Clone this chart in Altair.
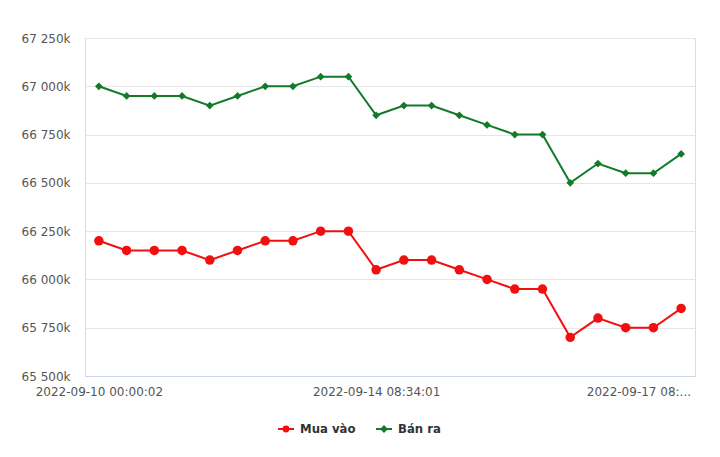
import altair as alt
import pandas as pd

series_names = ["Mua vào", "Bán ra"]
series_colors = ["#f20f0f", "#137a2a"]
series_shapes = ["circle", "diamond"]
series_sizes = [90, 60]
mua_vao = [66200, 66150, 66150, 66150, 66100, 66150, 66200, 66200, 66250, 66250, 66050,
           66100, 66100, 66050, 66000, 65950, 65950, 65700, 65800, 65750, 65750, 65850]
ban_ra = [67000, 66950, 66950, 66950, 66900, 66950, 67000, 67000, 67050, 67050, 66850,
          66900, 66900, 66850, 66800, 66750, 66750, 66500, 66600, 66550, 66550, 66650]
tick_idx = [0, 10, 20]
tick_labels = ["2022-09-10 00:00:02", "2022-09-14 08:34:01", "2022-09-17 08:..."]
y_ticks = [65500, 65750, 66000, 66250, 66500, 66750, 67000, 67250]

rows = []
for name, vals in zip(series_names, [mua_vao, ban_ra]):
    for i, v in enumerate(vals):
        rows.append({"series": name, "idx": i, "value": v})
df = pd.DataFrame(rows)

label_expr = " : ".join(
    f"datum.value == {i} ? '{t}'" for i, t in zip(tick_idx, tick_labels)
) + " : ''"

FONT = "DejaVu Sans"

x = alt.X("idx:Q", scale=alt.Scale(domain=[-0.5, len(mua_vao) - 0.5], nice=False, zero=False),
          axis=alt.Axis(values=tick_idx, labelExpr=label_expr, grid=False, ticks=False,
                        domainColor="#ccd6eb", domainWidth=1, labelColor="#555555",
                        labelFont=FONT, labelFontSize=12, labelPadding=10, title=None,
                        labelFlush=False, labelOverlap=False,
                        labelOffset={"expr": "datum.value == 20 ? -15 : 0"}))
y = alt.Y("value:Q", scale=alt.Scale(domain=[65500, 67250], nice=False, zero=False),
          axis=alt.Axis(values=y_ticks, labelExpr="replace(format(datum.value, ','), ',', ' ') + 'k'",
                        grid=True, gridColor="#e6e6e6", ticks=False, domain=False,
                        labelColor="#555555", labelFont=FONT, labelFontSize=12,
                        labelPadding=15, title=None))

circle_path = "M-1,0L1,0M-0.3,0A0.3,0.3,0,1,1,0.3,0A0.3,0.3,0,1,1,-0.3,0Z"
diamond_path = "M-1,0L1,0M0,-0.32L0.32,0L0,0.32L-0.32,0Z"

cscale = alt.Scale(domain=series_names, range=series_colors)
color = alt.Color("series:N", scale=cscale,
                  legend=alt.Legend(orient="none", legendX=192, legendY=382, direction="horizontal",
                                    title=None, labelFont="DejaVu Sans Condensed", labelFontSize=13,
                                    labelFontWeight="bold", labelColor="#333333",
                                    symbolSize=256, symbolStrokeWidth=2, labelOffset=5,
                                    columnPadding=16,
                                    symbolType={"expr": f"datum.value === '{series_names[0]}' ? '{circle_path}' : '{diamond_path}'"},
                                    symbolFillColor={"expr": "scale('color', datum.value)"},
                                    symbolStrokeColor={"expr": "scale('color', datum.value)"},
                                    symbolOpacity=1))

base = alt.Chart(df)
layers = [base.mark_line(strokeWidth=2).encode(x=x, y=y, color=color, detail="series:N")]
for name, shp, sz in zip(series_names, series_shapes, series_sizes):
    layers.append(
        base.transform_filter(alt.datum.series == name)
        .mark_point(filled=True, opacity=1, shape=shp, size=sz)
        .encode(x=x, y=y, color=alt.Color("series:N", scale=cscale, legend=None))
    )

chart = alt.layer(*layers).properties(
    width=610, height=338,
    padding={"left": 85, "top": 38, "right": 25, "bottom": 81},
    autosize=alt.AutoSizeParams(type="none"),
).configure_view(stroke="transparent", strokeWidth=0, strokeOpacity=0).configure(background="white")

chart.save("out.html", embed_options={"renderer": "svg", "actions": False})
